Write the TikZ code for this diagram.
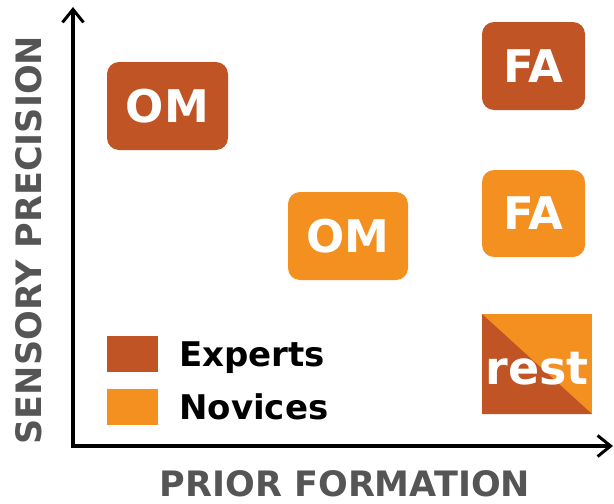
\documentclass[tikz,border=0pt]{standalone}
\usepackage{fontspec}
\setmainfont{DejaVu Sans}
\usetikzlibrary{arrows.meta}
\definecolor{expertc}{RGB}{192,84,36}
\definecolor{novicec}{RGB}{243,144,32}
\definecolor{labelgray}{RGB}{85,85,85}
\tikzset{
  box/.style={rounded corners=12pt, inner sep=0pt, text=white,
    font=\fontsize{45}{45}\selectfont\bfseries},
  legbox/.style={inner sep=0pt, minimum width=51pt, minimum height=36pt},
  legtext/.style={anchor=base west, inner sep=0pt, font=\fontsize{34}{34}\selectfont\bfseries, text=black},
  axislabel/.style={inner sep=0pt, text=labelgray, font=\fontsize{35}{35}\selectfont\bfseries},
  axis/.style={line width=3.5pt, line join=miter,
    {Straight Barb[length=13pt,width=21pt,line width=3pt]}-{Straight Barb[length=13pt,width=21pt,line width=3pt]}}
}
\begin{document}
\begin{tikzpicture}[x=1pt,y=-1pt]
\useasboundingbox (0,0) rectangle (614,504);
% axes
\coordinate (ytop) at (73,7);
\coordinate (origin) at (73,446);
\coordinate (xend) at (613,446);
\draw[axis] (ytop) -- (origin) -- (xend);
% axis labels
\node[axislabel, rotate=90] (ylab) at (29,240) {SENSORY PRECISION};
\node[axislabel, anchor=base] (xlab) at (345,496) {PRIOR FORMATION};
% boxes
\node[box, fill=expertc, minimum width=121pt, minimum height=88pt] (omE) at (167.5,106) {OM};
\node[box, fill=novicec, minimum width=120pt, minimum height=88pt] (omN) at (348,236) {OM};
\node[box, fill=expertc, minimum width=103pt, minimum height=88pt] (faE) at (533.5,66) {FA};
\node[box, fill=novicec, minimum width=103pt, minimum height=87pt] (faN) at (533.5,213.5) {FA};
% rest
\node[inner sep=0pt, minimum width=110pt, minimum height=100pt, fill=novicec,
  path picture={\fill[expertc] (path picture bounding box.north west) -- (path picture bounding box.south east) -- (path picture bounding box.south west) -- cycle;}]
  (rest) at (537,364) {};
\node[inner sep=0pt, anchor=base, text=white, font=\fontsize{46}{46}\selectfont\bfseries] (restlab) at (537,384) {rest};
% legend
\node[legbox, fill=expertc] (legE) at (132.5,354) {};
\node[legbox, fill=novicec] (legN) at (132.5,407) {};
\node[legtext] (legEt) at (179,366) {Experts};
\node[legtext] (legNt) at (179,419) {Novices};
\end{tikzpicture}
\end{document}
